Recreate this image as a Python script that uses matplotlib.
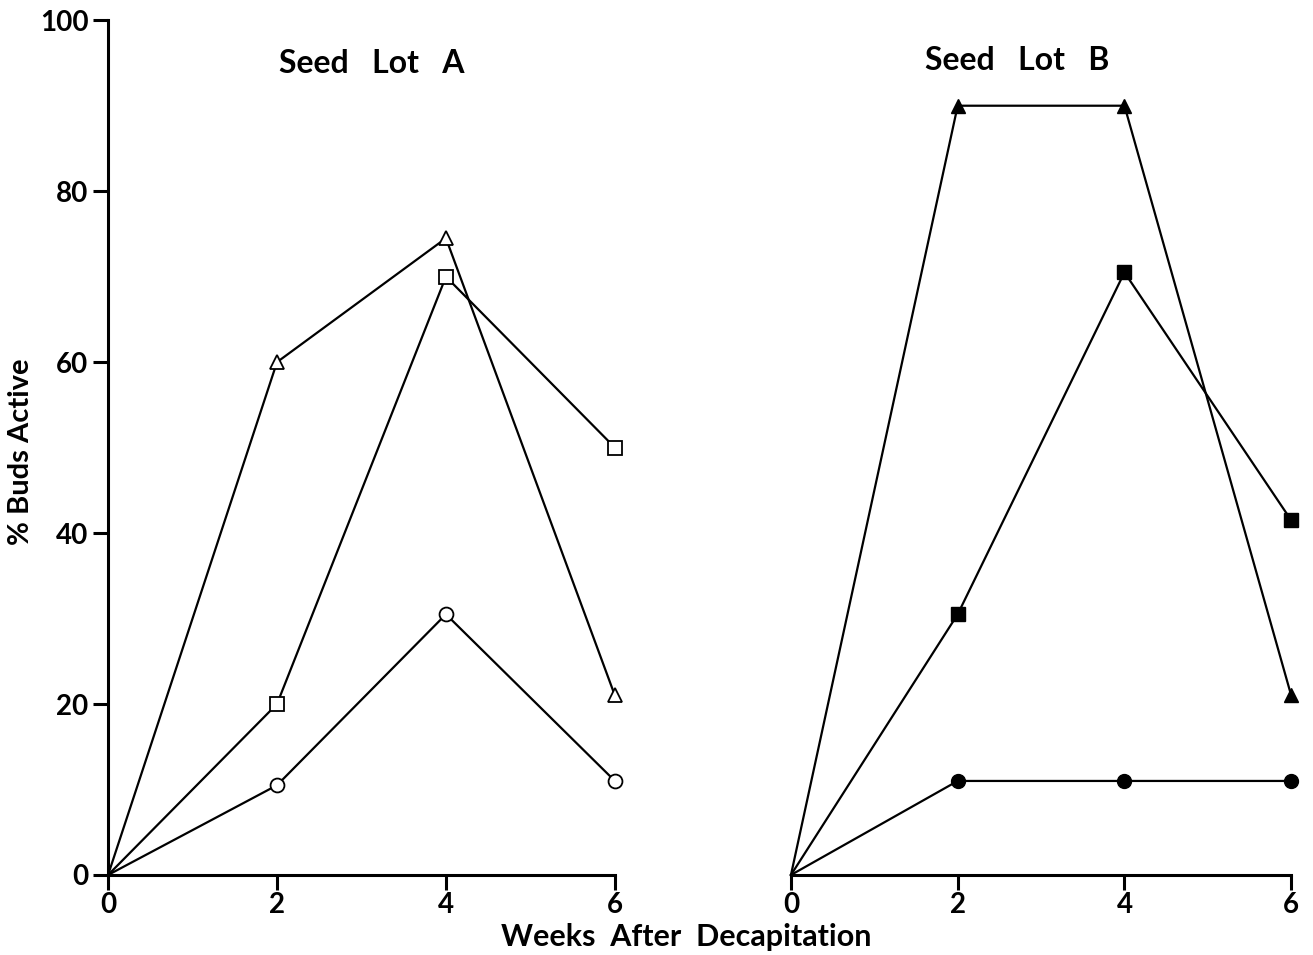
import matplotlib
matplotlib.use("Agg")
import matplotlib.pyplot as plt

weeks = [0, 2, 4, 6]

# seed lot A (open markers)
a_triangle = [0, 60, 74.5, 21]
a_square = [0, 20, 70, 50]
a_circle = [0, 10.5, 30.5, 11]

# seed lot B (filled markers)
b_triangle = [0, 90, 90, 21]
b_square = [0, 30.5, 70.5, 41.5]
b_circle = [0, 11, 11, 11]

plt.rcParams['font.family'] = ['Lato', 'DejaVu Sans']
plt.rcParams['font.weight'] = 'bold'

fig = plt.figure(figsize=(13.13, 9.55), dpi=100)
ax1 = fig.add_axes([0.0823, 0.0838, 0.386, 0.895])
ax2 = fig.add_axes([0.6024, 0.0838, 0.381, 0.895])

lw = 1.6
mk = [1, 2, 3]  # no marker at the origin
ax1.plot(weeks, a_triangle, "k-", lw=lw, marker="^", ms=10, mfc="white", mew=1.3, markevery=mk, clip_on=False)
ax1.plot(weeks, a_square, "k-", lw=lw, marker="s", ms=10, mfc="white", mew=1.3, markevery=mk, clip_on=False)
ax1.plot(weeks, a_circle, "k-", lw=lw, marker="o", ms=10, mfc="white", mew=1.3, markevery=mk, clip_on=False)

ax2.plot(weeks, b_triangle, "k-", lw=lw, marker="^", ms=10, mfc="black", markevery=mk, clip_on=False)
ax2.plot(weeks, b_square, "k-", lw=lw, marker="s", ms=10, mfc="black", markevery=mk, clip_on=False)
ax2.plot(weeks, b_circle, "k-", lw=lw, marker="o", ms=10, mfc="black", markevery=mk, clip_on=False)

for ax in (ax1, ax2):
	ax.set_xlim(0, 6)
	ax.set_ylim(0, 100)
	ax.set_xticks(weeks)
	ax.spines['top'].set_visible(False)
	ax.spines['right'].set_visible(False)
	ax.spines['bottom'].set_linewidth(2.2)
	ax.tick_params(axis='x', direction='out', length=11, width=2.2, labelsize=20, pad=1)
	ax.tick_params(axis='y', direction='out', length=11, width=2.2, labelsize=20, pad=3)

ax1.spines['left'].set_linewidth(2.2)
ax1.set_yticks([0, 20, 40, 60, 80, 100])

ax2.spines['left'].set_visible(False)
ax2.set_yticks([])

ax1.text(3.12, 94.9, "Seed   Lot   A", fontsize=23, ha="center", va="center")
ax2.text(2.71, 95.3, "Seed   Lot   B", fontsize=23, ha="center", va="center")

fig.text(0.016, 0.527, "% Buds Active", fontsize=21, rotation=90, ha="center", va="center")
fig.text(0.5225, 0.019, "Weeks  After  Decapitation", fontsize=22, ha="center", va="center")

fig.savefig("out.png", dpi=100)
